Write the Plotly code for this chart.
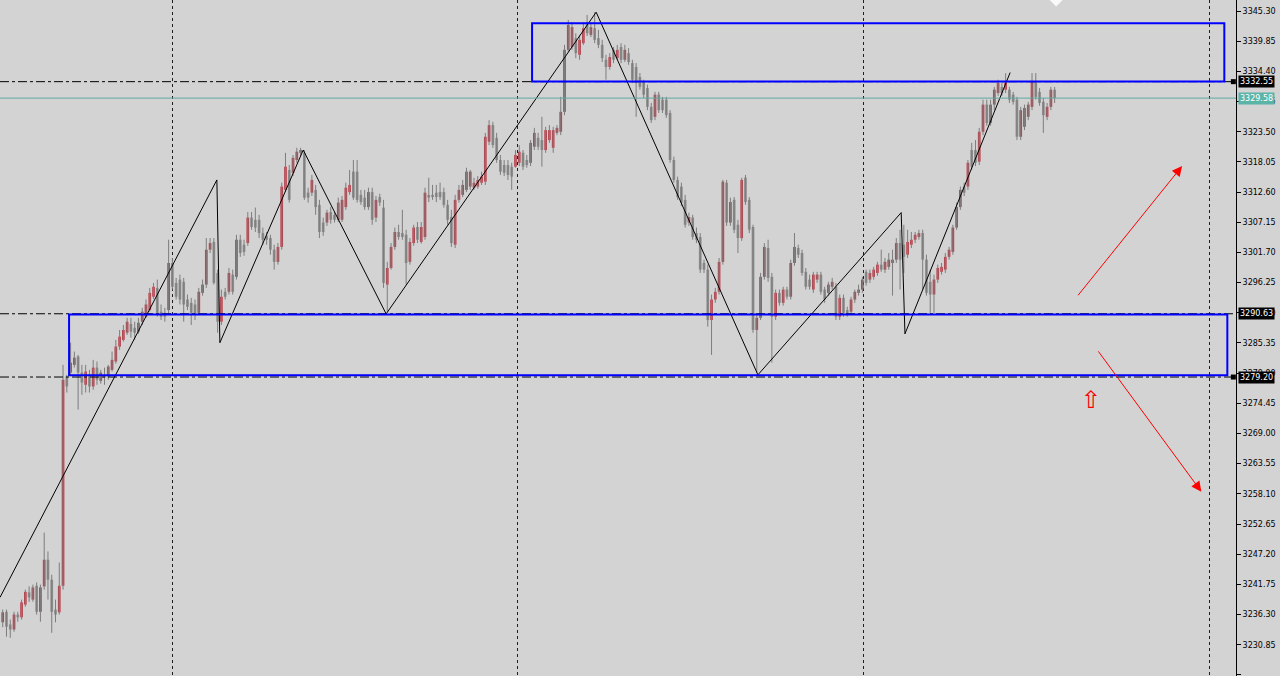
import plotly.graph_objects as go

# ---------------- data (XAUUSD style candles) ----------------
opens = [
    3234.9, 3236.8, 3234.5, 3233.6, 3236.3, 3235.8, 3238.1, 3240.3, 3239.0, 3241.5,
    3236.8, 3241.4, 3246.2, 3242.6, 3237.2, 3236.7, 3241.5,
    3279.3, 3280.0, 3281.4, 3282.9, 3280.0, 3277.8, 3279.6, 3277.5, 3280.9, 3278.5,
    3279.6, 3279.3, 3280.5, 3282.0, 3284.7, 3285.9, 3287.2, 3288.8, 3288.1, 3287.4,
    3289.2, 3290.1, 3291.3, 3293.7, 3295.3, 3291.0, 3290.8, 3291.3, 3299.8, 3296.2,
    3296.8, 3296.4, 3293.2, 3292.6, 3292.3, 3290.8, 3294.4, 3295.9, 3302.2, 3303.6,
    3298.0, 3289.2, 3294.6, 3294.6, 3297.7, 3297.3, 3304.0, 3303.1, 3303.4, 3308.0,
    3307.6, 3307.6, 3305.2, 3304.7, 3304.3, 3302.2, 3300.0, 3302.7, 3313.0, 3316.6,
    3316.1, 3318.4, 3319.7, 3319.7, 3312.5, 3312.5, 3313.0, 3310.3, 3307.1, 3307.1,
    3309.0, 3308.5, 3307.6, 3307.6, 3309.9, 3312.6, 3316.3, 3316.3, 3312.1, 3311.6,
    3309.9, 3312.6, 3308.0, 3311.7, 3309.8, 3295.9, 3298.9, 3302.7, 3305.4, 3305.2,
    3304.9, 3300.0, 3303.4, 3306.3, 3303.6, 3304.5, 3312.1, 3312.1, 3312.5, 3312.6,
    3312.6, 3310.3, 3308.1, 3303.1, 3311.2, 3312.1, 3313.0, 3313.6, 3313.4, 3313.6,
    3314.3, 3314.5, 3321.7, 3324.7, 3322.4, 3318.4, 3317.5, 3317.5, 3317.2, 3317.2,
    3317.9, 3319.7, 3318.4, 3317.9, 3320.8, 3322.4, 3322.0, 3320.2, 3322.0, 3320.6,
    3323.3, 3323.5, 3327.1, 3338.3, 3338.8, 3340.4, 3337.4, 3339.5, 3343.3, 3341.0,
    3342.2, 3340.4, 3339.2, 3336.5, 3335.2, 3338.3, 3336.8, 3338.8, 3336.5, 3337.7,
    3335.9, 3335.2, 3333.4, 3332.5, 3331.4, 3328.0, 3326.2, 3330.2, 3329.3, 3329.3,
    3326.9, 3318.4, 3314.8, 3313.6, 3311.2, 3307.1, 3308.0, 3305.2, 3304.5, 3299.8,
    3298.6, 3289.5, 3293.2, 3294.6, 3300.0, 3314.3, 3307.1, 3311.2, 3306.7, 3304.3,
    3315.2, 3311.2, 3306.3, 3287.7, 3289.9, 3297.3, 3302.5, 3297.3, 3290.1, 3294.4,
    3292.6, 3295.0, 3293.7, 3299.8, 3302.5, 3301.6, 3298.2, 3296.8, 3295.0, 3296.8,
    3297.7, 3295.0, 3294.4, 3295.5, 3295.5, 3290.1, 3293.5, 3291.3, 3291.0, 3293.2,
    3294.4, 3295.0, 3298.2, 3296.8, 3297.3, 3298.0, 3299.5, 3298.6, 3299.1, 3299.8,
    3300.4, 3303.4, 3303.1, 3301.3, 3303.1, 3304.0, 3304.5, 3305.2, 3300.4, 3296.4,
    3294.1, 3296.8, 3298.2, 3298.6, 3300.9, 3301.8, 3306.2, 3309.9, 3313.6, 3313.6,
    3320.2, 3320.2, 3318.1, 3323.5, 3328.4, 3325.1, 3328.4, 3330.5, 3331.6, 3331.1,
    3331.1, 3330.2, 3329.3, 3322.6, 3324.4, 3326.2, 3328.0, 3332.5, 3330.7, 3328.9,
    3326.2, 3328.0, 3331.1,
]
highs = [
    3237.2, 3237.2, 3235.4, 3236.8, 3236.8, 3239.0, 3240.8, 3241.4, 3241.7, 3242.1,
    3241.7, 3251.1, 3247.7, 3243.5, 3239.0, 3245.7, 3281.4,
    3279.6, 3285.4, 3283.8, 3283.2, 3281.4, 3281.4, 3280.5, 3282.3, 3282.0, 3280.5,
    3280.9, 3281.4, 3283.8, 3285.9, 3287.7, 3288.6, 3289.9, 3289.9, 3289.2, 3289.9,
    3291.7, 3293.2, 3295.3, 3296.2, 3296.8, 3292.3, 3291.7, 3304.0, 3300.7, 3297.1,
    3297.7, 3297.1, 3294.1, 3293.5, 3293.2, 3295.3, 3296.8, 3304.3, 3304.3, 3304.3,
    3298.6, 3295.0, 3295.3, 3298.9, 3298.6, 3304.9, 3304.9, 3304.0, 3309.0, 3309.0,
    3309.8, 3308.5, 3306.2, 3305.4, 3304.9, 3303.1, 3303.4, 3314.3, 3319.7, 3317.5,
    3319.3, 3320.6, 3320.6, 3320.2, 3313.4, 3315.7, 3313.9, 3311.2, 3308.0, 3309.4,
    3309.9, 3309.0, 3311.6, 3311.9, 3314.3, 3316.6, 3318.4, 3318.4, 3313.0, 3313.0,
    3313.4, 3313.4, 3311.9, 3312.3, 3311.2, 3300.0, 3303.4, 3306.2, 3306.7, 3309.4,
    3305.8, 3304.3, 3306.7, 3307.2, 3307.2, 3313.4, 3315.2, 3313.9, 3313.9, 3314.3,
    3313.4, 3311.2, 3309.4, 3312.1, 3313.9, 3314.8, 3317.0, 3316.6, 3315.2, 3315.5,
    3316.3, 3323.3, 3325.6, 3325.3, 3323.3, 3319.3, 3318.4, 3318.4, 3317.9, 3320.2,
    3321.1, 3320.2, 3319.3, 3322.0, 3324.2, 3323.3, 3326.2, 3324.4, 3324.7, 3324.4,
    3324.7, 3329.8, 3339.2, 3343.7, 3343.3, 3341.3, 3341.0, 3343.3, 3344.6, 3343.3,
    3345.1, 3341.9, 3340.1, 3337.4, 3337.7, 3338.8, 3339.2, 3339.5, 3339.2, 3338.6,
    3336.5, 3335.9, 3334.1, 3332.9, 3332.0, 3328.7, 3330.7, 3330.7, 3329.8, 3329.8,
    3327.4, 3319.0, 3315.4, 3314.3, 3312.1, 3308.9, 3308.5, 3306.2, 3305.2, 3300.4,
    3299.5, 3294.1, 3295.3, 3300.7, 3314.8, 3314.8, 3311.6, 3311.7, 3307.6, 3315.2,
    3315.7, 3311.7, 3306.7, 3290.6, 3298.0, 3303.4, 3304.0, 3298.0, 3295.0, 3295.0,
    3295.5, 3295.5, 3300.4, 3305.2, 3303.1, 3302.2, 3298.9, 3297.7, 3298.2, 3298.2,
    3298.2, 3295.5, 3296.4, 3297.1, 3296.2, 3294.1, 3294.1, 3291.9, 3293.7, 3295.0,
    3295.9, 3297.3, 3298.6, 3298.6, 3299.1, 3300.0, 3302.2, 3300.7, 3301.6, 3302.2,
    3304.3, 3305.8, 3306.7, 3305.8, 3305.4, 3305.4, 3305.8, 3305.8, 3301.3, 3298.6,
    3297.7, 3299.5, 3299.8, 3301.6, 3302.7, 3306.7, 3310.7, 3313.6, 3314.3, 3318.4,
    3321.5, 3322.0, 3324.2, 3329.3, 3329.3, 3329.3, 3331.6, 3332.9, 3332.3, 3334.1,
    3331.6, 3330.7, 3329.8, 3328.0, 3328.4, 3328.9, 3334.1, 3334.1, 3331.4, 3329.6,
    3328.7, 3331.6, 3331.6,
]
lows = [
    3234.0, 3232.3, 3232.1, 3233.2, 3235.0, 3235.4, 3237.7, 3238.6, 3238.6, 3236.3,
    3235.0, 3240.8, 3239.0, 3233.0, 3234.9, 3236.3, 3240.8,
    3276.4, 3279.6, 3280.9, 3273.3, 3276.0, 3276.4, 3276.4, 3276.9, 3277.8, 3278.0,
    3277.8, 3278.7, 3280.2, 3281.6, 3284.1, 3285.6, 3286.8, 3286.3, 3285.9, 3287.0,
    3288.6, 3289.9, 3291.0, 3293.3, 3290.1, 3289.5, 3289.2, 3290.4, 3295.0, 3293.2,
    3292.3, 3289.2, 3291.3, 3288.6, 3289.5, 3290.4, 3293.9, 3295.3, 3301.6, 3295.9,
    3287.2, 3288.6, 3293.2, 3294.1, 3294.1, 3296.8, 3300.9, 3301.1, 3302.9, 3305.8,
    3305.4, 3304.3, 3303.1, 3303.1, 3301.3, 3298.6, 3299.5, 3302.2, 3312.6, 3310.7,
    3315.5, 3317.9, 3319.1, 3311.2, 3310.7, 3311.9, 3308.5, 3304.3, 3304.7, 3306.5,
    3306.9, 3307.1, 3307.2, 3307.2, 3309.4, 3312.1, 3311.2, 3310.7, 3310.3, 3309.4,
    3309.4, 3306.7, 3307.2, 3310.1, 3295.3, 3291.0, 3298.6, 3302.2, 3304.0, 3304.0,
    3295.9, 3299.5, 3302.9, 3303.4, 3303.3, 3304.0, 3310.8, 3311.2, 3310.8, 3311.2,
    3309.8, 3306.7, 3302.7, 3302.5, 3310.7, 3311.7, 3312.6, 3313.0, 3313.0, 3313.2,
    3313.9, 3313.9, 3321.1, 3320.6, 3317.9, 3315.7, 3315.5, 3314.8, 3313.0, 3317.0,
    3317.3, 3316.6, 3317.0, 3317.3, 3320.2, 3320.2, 3317.2, 3319.7, 3321.5, 3319.7,
    3322.9, 3322.9, 3326.5, 3337.9, 3338.3, 3336.8, 3336.5, 3339.2, 3340.8, 3340.6,
    3339.5, 3338.6, 3336.1, 3332.9, 3334.7, 3335.9, 3336.5, 3335.9, 3336.1, 3335.6,
    3332.3, 3326.2, 3331.1, 3329.6, 3327.4, 3325.1, 3325.6, 3326.9, 3326.9, 3326.0,
    3317.9, 3314.3, 3311.2, 3310.1, 3306.2, 3306.5, 3304.0, 3303.4, 3298.0, 3298.0,
    3288.3, 3283.2, 3292.6, 3294.1, 3299.5, 3306.5, 3306.5, 3305.2, 3301.6, 3303.8,
    3310.3, 3305.2, 3287.2, 3280.0, 3289.5, 3296.8, 3296.4, 3281.8, 3289.5, 3292.1,
    3292.1, 3293.2, 3293.2, 3299.3, 3300.7, 3297.5, 3295.0, 3295.0, 3294.4, 3296.2,
    3294.1, 3292.6, 3293.9, 3295.0, 3289.5, 3289.5, 3290.1, 3290.1, 3290.4, 3292.6,
    3293.9, 3294.4, 3295.7, 3296.2, 3296.8, 3297.5, 3298.2, 3298.0, 3298.6, 3293.9,
    3299.8, 3295.0, 3298.0, 3300.7, 3302.5, 3303.4, 3304.0, 3295.0, 3293.9, 3290.8,
    3290.8, 3296.2, 3297.7, 3298.0, 3300.4, 3301.3, 3305.8, 3309.4, 3311.9, 3313.0,
    3316.6, 3317.3, 3317.5, 3322.9, 3324.6, 3324.6, 3327.4, 3330.0, 3330.0, 3330.5,
    3328.7, 3328.4, 3322.0, 3322.0, 3323.8, 3325.6, 3327.4, 3329.3, 3328.2, 3323.3,
    3325.6, 3327.4, 3328.7,
]
closes = [
    3236.7, 3234.1, 3233.6, 3236.3, 3235.8, 3238.5, 3240.4, 3239.4, 3241.2, 3236.8,
    3241.2, 3246.2, 3242.6, 3236.8, 3236.3, 3241.5, 3278.7,
    3277.5, 3281.8, 3282.7, 3280.0, 3278.2, 3280.2, 3277.5, 3280.9, 3278.7, 3280.0,
    3279.1, 3281.1, 3282.3, 3284.7, 3286.5, 3287.7, 3289.2, 3287.4, 3287.2, 3289.0,
    3291.0, 3292.3, 3294.4, 3295.5, 3290.8, 3290.1, 3290.1, 3299.8, 3295.5, 3293.7,
    3293.2, 3292.3, 3291.9, 3290.8, 3290.4, 3294.6, 3295.9, 3302.2, 3303.4, 3296.2,
    3289.2, 3293.7, 3293.7, 3298.0, 3294.6, 3304.0, 3301.6, 3301.8, 3308.0, 3306.3,
    3306.2, 3305.2, 3304.0, 3304.0, 3302.2, 3300.0, 3302.7, 3313.6, 3317.2, 3311.2,
    3318.8, 3319.9, 3320.2, 3311.6, 3311.6, 3314.8, 3309.9, 3305.4, 3305.4, 3308.9,
    3307.6, 3307.6, 3310.7, 3311.2, 3313.4, 3313.9, 3311.6, 3311.2, 3310.8, 3309.9,
    3312.6, 3307.6, 3311.2, 3310.7, 3296.2, 3298.9, 3302.7, 3305.4, 3304.5, 3304.5,
    3299.8, 3303.6, 3306.2, 3304.0, 3306.3, 3312.5, 3311.6, 3311.7, 3311.7, 3311.7,
    3310.3, 3307.6, 3303.4, 3311.2, 3313.0, 3313.9, 3316.3, 3316.3, 3314.3, 3314.8,
    3315.4, 3322.6, 3324.7, 3321.1, 3318.4, 3316.3, 3316.1, 3315.7, 3315.4, 3319.3,
    3319.9, 3317.2, 3317.5, 3321.5, 3323.3, 3320.8, 3320.2, 3323.8, 3323.8, 3323.8,
    3324.2, 3327.1, 3338.3, 3342.8, 3342.4, 3337.7, 3340.1, 3342.2, 3341.3, 3342.4,
    3340.1, 3339.2, 3336.8, 3335.2, 3337.0, 3336.5, 3338.3, 3336.5, 3338.3, 3336.1,
    3332.9, 3332.3, 3331.6, 3330.2, 3328.0, 3325.6, 3330.2, 3327.4, 3327.4, 3326.5,
    3318.4, 3314.8, 3311.7, 3310.7, 3306.7, 3308.1, 3304.5, 3304.0, 3298.6, 3298.6,
    3289.5, 3293.2, 3294.6, 3300.0, 3314.5, 3307.1, 3310.8, 3305.8, 3304.3, 3314.8,
    3310.8, 3305.8, 3287.7, 3289.9, 3297.3, 3302.7, 3297.1, 3290.1, 3294.4, 3292.6,
    3295.0, 3293.7, 3299.8, 3302.7, 3301.3, 3298.0, 3295.5, 3295.5, 3297.7, 3297.7,
    3294.6, 3293.2, 3295.9, 3296.4, 3290.1, 3293.5, 3290.8, 3290.4, 3293.2, 3294.6,
    3295.0, 3296.8, 3296.2, 3298.0, 3298.6, 3299.5, 3298.6, 3300.0, 3300.4, 3300.4,
    3303.4, 3300.4, 3300.9, 3303.6, 3304.0, 3304.9, 3305.2, 3300.4, 3294.4, 3294.1,
    3296.8, 3298.9, 3299.1, 3300.9, 3302.2, 3306.2, 3309.9, 3313.0, 3312.5, 3317.9,
    3317.2, 3317.9, 3323.5, 3328.4, 3325.1, 3328.4, 3331.1, 3332.3, 3330.5, 3332.3,
    3329.3, 3328.9, 3322.6, 3327.4, 3327.8, 3328.4, 3332.5, 3329.8, 3328.7, 3326.5,
    3328.0, 3331.1, 3329.58,
]

# right price scale ticks
ytick_vals = [3345.30, 3339.85, 3334.40, 3328.95, 3323.50, 3318.05, 3312.60, 3307.15,
              3301.70, 3296.25, 3290.80, 3285.35, 3279.90, 3274.45, 3269.00, 3263.55,
              3258.10, 3252.65, 3247.20, 3241.75, 3236.30, 3230.85, 3225.40]

# vertical grid separators (bar index)
vgrid_bars = [44.9, 136.6, 228.3, 320.0]

# horizontal levels (dash-dot) and current price
levels = [3332.55, 3290.63, 3279.20]
current_price = 3329.58

# zigzag vertices (bar index, price)
zz_x = [-0.72, 56.8, 57.6, 79.7, 101.7, 157.4, 200.3, 238.3, 239.3, 267.2]
zz_y = [3239.4, 3314.8, 3285.4, 3320.2, 3290.6, 3345.1, 3279.6, 3308.9, 3287.0, 3334.2]

# zones (x0, x1, y0, y1)
zones = [(140.4, 324.0, 3332.6, 3343.1),
         (17.6, 324.8, 3279.5, 3290.5)]

# red arrows (start bar, start price, end bar, end price)
arrows = [(284.9, 3293.7, 312.8, 3317.3),
          (290.3, 3284.1, 317.9, 3258.5)]
hollow_arrow = (288.7, 3275.1)

# ---------------- styling ----------------
BG = "#d3d3d3"
UP = "#b8434e"
DN = "#8e8e8e"
WICK = "#7d7d7d"
X_RANGE = [-0.72, 327.1]
Y_RANGE = [3225.2, 3347.3]

n = len(opens)
idx = list(range(n))

wick_x, wick_y = [], []
for i, (h, l) in enumerate(zip(highs, lows)):
    wick_x += [i, i, None]
    wick_y += [l, h, None]

body_base = [min(o, c) for o, c in zip(opens, closes)]
body_h = [max(abs(c - o), 0.2) for o, c in zip(opens, closes)]
body_col = [UP if c > o else DN for o, c in zip(opens, closes)]

fig = go.Figure()
fig.add_trace(go.Scatter(x=wick_x, y=wick_y, mode="lines",
                         line=dict(color=WICK, width=1), hoverinfo="skip"))
fig.add_trace(go.Bar(x=idx, y=body_h, base=body_base, width=0.72,
                     marker=dict(color=body_col, line=dict(width=0)), hoverinfo="skip"))
fig.add_trace(go.Scatter(x=zz_x, y=zz_y, mode="lines",
                         line=dict(color="#000000", width=1), hoverinfo="skip"))
# white marker at top edge
fig.add_trace(go.Scatter(x=[279.4], y=[Y_RANGE[1]], mode="markers",
                         marker=dict(symbol="diamond", size=10, color="rgba(255,255,255,0.85)"),
                         hoverinfo="skip"))
# small black squares of the level markers
fig.add_trace(go.Scatter(x=[326.4, 326.4], y=[levels[0], levels[2]], mode="markers",
                         marker=dict(symbol="square", size=5, color="black"),
                         cliponaxis=False, hoverinfo="skip"))

shapes = []
for lv in levels:
    shapes.append(dict(type="line", xref="paper", x0=0, x1=1, yref="y", y0=lv, y1=lv,
                       line=dict(color="#000000", width=1, dash="dashdot")))
shapes.append(dict(type="line", xref="paper", x0=0, x1=1, yref="y",
                   y0=current_price, y1=current_price,
                   line=dict(color="#5fa89f", width=1)))
for (x0, x1, y0, y1) in zones:
    shapes.append(dict(type="rect", xref="x", yref="y", x0=x0, x1=x1, y0=y0, y1=y1,
                       line=dict(color="#0000ff", width=2), fillcolor="rgba(0,0,0,0)"))

annotations = []
for (sx, sy, ex, ey) in arrows:
    annotations.append(dict(x=ex, y=ey, ax=sx, ay=sy, xref="x", yref="y",
                            axref="x", ayref="y", text="", showarrow=True,
                            arrowhead=2, arrowsize=2.0, arrowwidth=1,
                            arrowcolor="#ff0000", standoff=0))
annotations.append(dict(x=hollow_arrow[0], y=hollow_arrow[1], xref="x", yref="y",
                        text="⇧", showarrow=False,
                        font=dict(family="DejaVu Sans", size=24, color="#ff0000")))

label_font = dict(family="DejaVu Sans", size=8, color="#ffffff")
for val, bg in [(levels[0], "#000000"), (current_price, "#5ab4a8"),
                (levels[1], "#000000"), (levels[2], "#000000")]:
    annotations.append(dict(x=1, y=val, xref="paper", yref="y", xanchor="left",
                            yanchor="middle", xshift=2, text=f"{val:.2f}",
                            showarrow=False, bgcolor=bg, borderpad=1,
                            font=label_font))

fig.update_layout(
    width=1280, height=676,
    margin=dict(l=0, r=44, t=0, b=0),
    paper_bgcolor=BG, plot_bgcolor=BG,
    showlegend=False, barmode="overlay", hovermode=False,
    shapes=shapes, annotations=annotations,
    xaxis=dict(range=X_RANGE, tickmode="array", tickvals=vgrid_bars,
               showticklabels=False, ticks="", showgrid=True, griddash="dot",
               gridcolor="#1e1e1e", gridwidth=1, zeroline=False, showline=False,
               automargin=False),
    yaxis=dict(range=Y_RANGE, side="right", tickmode="array", tickvals=ytick_vals,
               ticktext=[f"{v:.2f}" for v in ytick_vals], ticks="outside",
               ticklen=4, tickcolor="#000000", showline=True, linecolor="#000000",
               linewidth=1, showgrid=False, zeroline=False, automargin=False,
               tickfont=dict(family="DejaVu Sans", size=8, color="#000000")),
)

fig.write_html(
    "out.html",
    config={"displayModeBar": False, "staticPlot": True},
    post_script="document.body.style.margin='0';document.body.style.padding='0';"
                "document.body.style.overflow='hidden';"
                "document.body.style.background='#d3d3d3';",
)
